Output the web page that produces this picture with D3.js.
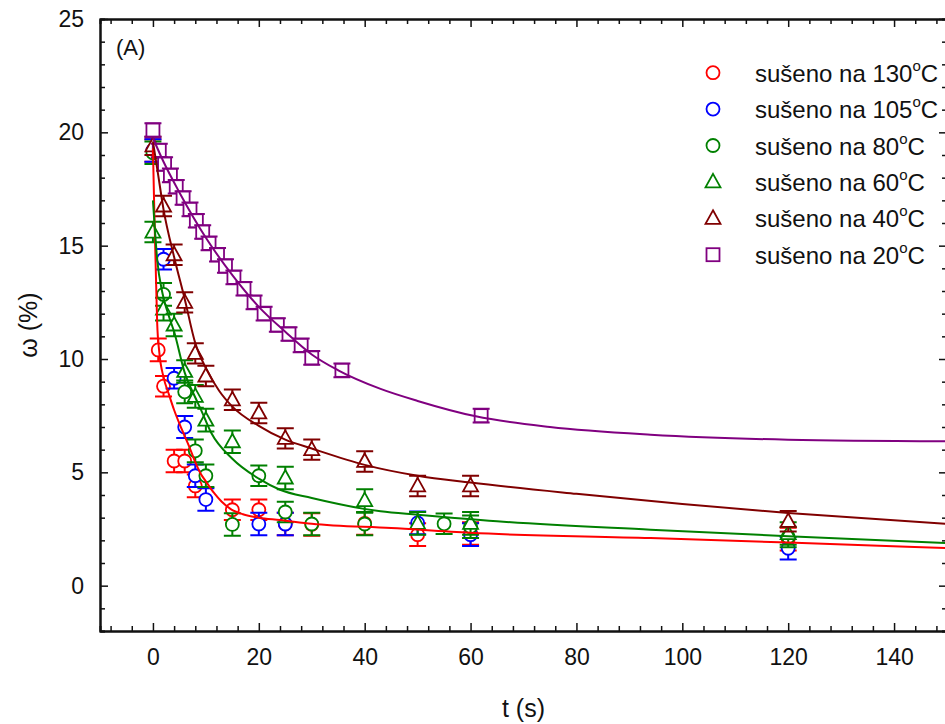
<!DOCTYPE html>
<html>
<head>
<meta charset="utf-8">
<script src="https://cdn.jsdelivr.net/npm/d3@7"></script>
<style>
  body { margin: 0; background: #fff; }
  text { font-family: "Liberation Sans", Arial, sans-serif; fill: #111; }
</style>
</head>
<body>
<svg id="chart" width="945" height="724"></svg>
<script>
var t130 = [0, 1, 2, 4, 6, 8, 15, 20, 25, 30, 40, 50, 60, 120];
var w130 = [19.2, 10.4, 8.8, 5.5, 5.5, 4.4, 3.35, 3.35, 2.72, 2.7, 2.75, 2.25, 2.3, 2.05];
var e130 = [0.5, 0.5, 0.45, 0.5, 0.5, 0.5, 0.45, 0.45, 0.5, 0.5, 0.5, 0.5, 0.5, 0.5];

var t105 = [0, 2, 4, 6, 8, 10, 20, 25, 50, 60, 120];
var w105 = [19.2, 14.4, 9.15, 7.0, 4.85, 3.8, 2.72, 2.72, 2.77, 2.25, 1.65];
var e105 = [0.5, 0.45, 0.45, 0.48, 0.5, 0.5, 0.5, 0.5, 0.5, 0.5, 0.5];

var t80 = [0, 2, 6, 8, 10, 15, 20, 25, 30, 40, 55, 60, 120];
var w80 = [19.1, 12.85, 8.55, 5.95, 4.85, 2.7, 4.85, 3.25, 2.72, 2.72, 2.73, 2.6, 2.15];
var e80 = [0.5, 0.5, 0.5, 0.5, 0.5, 0.5, 0.45, 0.45, 0.5, 0.5, 0.45, 0.5, 0.45];

var t60 = [0, 2, 4, 6, 8, 10, 15, 25, 40, 50, 60, 120];
var w60 = [15.6, 12.2, 11.5, 9.45, 8.35, 7.3, 6.35, 4.75, 3.75, 2.75, 2.75, 2.3];
var e60 = [0.45, 0.5, 0.5, 0.5, 0.5, 0.5, 0.5, 0.5, 0.5, 0.5, 0.5, 0.5];

var t40 = [0, 2, 4, 6, 8, 10, 15, 20, 25, 30, 40, 50, 60, 120];
var w40 = [19.4, 16.75, 14.6, 12.5, 10.25, 9.25, 8.2, 7.62, 6.5, 6.0, 5.48, 4.4, 4.4, 2.84];
var e40 = [0.4, 0.45, 0.45, 0.45, 0.45, 0.45, 0.45, 0.45, 0.45, 0.45, 0.45, 0.45, 0.45, 0.45];

var t20 = [0, 1.2, 2.2, 3.3, 4.4, 5.7, 7, 8.2, 9.4, 10.6, 12.2, 13.7, 15.3, 17.2, 19.1, 21, 23.5, 25.7, 28, 30, 35.7, 62];
var w20 = [20.1, 19.2, 18.6, 18.1, 17.6, 17.1, 16.6, 16.1, 15.6, 15.1, 14.6, 14.1, 13.6, 13.1, 12.5, 12.0, 11.5, 11.1, 10.6, 10.05, 9.5, 7.5];
var e20 = [0.3, 0.3, 0.3, 0.3, 0.3, 0.3, 0.3, 0.3, 0.3, 0.3, 0.3, 0.3, 0.3, 0.3, 0.3, 0.3, 0.3, 0.3, 0.3, 0.3, 0.3, 0.3];

// fitted curves, sampled from the figure
var fitT130 = [0, 0.25, 0.5, 0.8, 1.2, 2, 3, 4, 5, 6, 7, 8, 9, 10, 11.5, 13, 14.7, 17, 20, 24, 30, 45, 60, 94, 120, 150];
var fitW130 = [19.3, 16.6, 14.3, 11.6, 10.3, 9.2, 8.45, 7.75, 7.15, 6.6, 6.05, 5.45, 4.95, 4.6, 4.1, 3.7, 3.38, 3.15, 3.0, 2.9, 2.73, 2.54, 2.33, 2.1, 1.9, 1.66];

var fitT80 = [0, 0.4, 0.8, 1.8, 3, 4, 6, 8, 9, 11, 15, 20, 24, 30, 43, 50, 65, 94, 120, 150];
var fitW80 = [17, 15.6, 14.4, 12.9, 11.9, 11.2, 9.4, 8.3, 7.8, 6.75, 5.6, 4.72, 4.23, 3.87, 3.28, 3.13, 2.84, 2.47, 2.18, 1.88];

var fitT40 = [0, 1, 2, 4, 6, 8, 10, 12.5, 15, 20, 25, 30, 40, 50, 60, 80, 100, 120, 150];
var fitW40 = [19.6, 18.1, 16.6, 14.5, 12.65, 10.7, 9.6, 8.6, 7.9, 7.05, 6.44, 6.05, 5.33, 4.85, 4.55, 4.05, 3.6, 3.21, 2.73];

var fitT20 = [0, 2, 5, 10, 15, 20, 25, 30, 35, 43, 50, 61, 75, 94, 120, 150];
var fitW20 = [19.75, 18.7, 17.35, 15.35, 13.7, 12.3, 11.2, 10.2, 9.5, 8.68, 8.15, 7.47, 7.0, 6.66, 6.44, 6.37];

var xMajor = [0, 20, 40, 60, 80, 100, 120, 140];
var yMajor = [0, 5, 10, 15, 20, 25];
var legendLabels = ["130", "105", "80", "60", "40", "20"];

var series = [
  { t: t130, w: w130, e: e130, color: "#ff0000", shape: "circle" },
  { t: t105, w: w105, e: e105, color: "#0000ff", shape: "circle" },
  { t: t80, w: w80, e: e80, color: "#008000", shape: "circle" },
  { t: t60, w: w60, e: e60, color: "#008000", shape: "triangle" },
  { t: t40, w: w40, e: e40, color: "#800000", shape: "triangle" },
  { t: t20, w: w20, e: e20, color: "#800080", shape: "square" }
];
var fits = [
  { t: fitT130, w: fitW130, color: "#ff0000" },
  { t: fitT80, w: fitW80, color: "#008000" },
  { t: fitT40, w: fitW40, color: "#800000" },
  { t: fitT20, w: fitW20, color: "#800080" }
];

var svg = d3.select("#chart");
var pLeft = 100, pRight = 947, pTop = 19, pBottom = 631;

var x = d3.scaleLinear().domain([-10, 150]).range([pLeft, pRight]);
var y = d3.scaleLinear().domain([-2, 25]).range([pBottom, pTop]);

var xMinor = d3.range(-8, 150, 4).filter(function(d) { return d % 20 !== 0; });
var yMinor = d3.range(-2, 26, 1).filter(function(d) { return d % 5 !== 0; });

function styleAxis(g) {
  g.attr("font-size", 23).attr("font-family", "Liberation Sans, Arial, sans-serif");
  g.select(".domain").attr("stroke", "#111").attr("stroke-width", 2);
  g.selectAll(".tick line").attr("stroke", "#111").attr("stroke-width", 1.5);
  g.selectAll(".tick text").attr("fill", "#111");
}

// bottom
svg.append("g").attr("transform", "translate(0," + pBottom + ")")
  .call(d3.axisBottom(x).tickValues(xMajor).tickSizeInner(-8).tickSizeOuter(0).tickPadding(18))
  .call(styleAxis);
svg.append("g").attr("transform", "translate(0," + pBottom + ")")
  .call(d3.axisBottom(x).tickValues(xMinor).tickSize(-5).tickFormat(""))
  .call(styleAxis);
// top
svg.append("g").attr("transform", "translate(0," + pTop + ")")
  .call(d3.axisTop(x).tickValues(xMajor).tickSizeInner(-8).tickSizeOuter(0).tickFormat(""))
  .call(styleAxis);
svg.append("g").attr("transform", "translate(0," + pTop + ")")
  .call(d3.axisTop(x).tickValues(xMinor).tickSize(-5).tickFormat(""))
  .call(styleAxis);
// left
svg.append("g").attr("transform", "translate(" + pLeft + ",0)")
  .call(d3.axisLeft(y).tickValues(yMajor).tickSizeInner(-8).tickSizeOuter(0).tickPadding(16))
  .call(styleAxis);
svg.append("g").attr("transform", "translate(" + pLeft + ",0)")
  .call(d3.axisLeft(y).tickValues(yMinor).tickSize(-5).tickFormat(""))
  .call(styleAxis);
// right
svg.append("g").attr("transform", "translate(" + pRight + ",0)")
  .call(d3.axisRight(y).tickValues(yMajor).tickSizeInner(-8).tickSizeOuter(0).tickFormat(""))
  .call(styleAxis);
svg.append("g").attr("transform", "translate(" + pRight + ",0)")
  .call(d3.axisRight(y).tickValues(yMinor).tickSize(-5).tickFormat(""))
  .call(styleAxis);

// axis titles
svg.append("text").attr("x", (pLeft + pRight) / 2).attr("y", 717)
  .attr("text-anchor", "middle").attr("font-size", 25).text("t (s)");
svg.append("text").attr("transform", "translate(37," + ((pTop + pBottom) / 2) + ") rotate(-90)")
  .attr("text-anchor", "middle").attr("font-size", 25).text("ω (%)");
svg.append("text").attr("x", 116).attr("y", 55).attr("font-size", 22).text("(A)");

svg.append("clipPath").attr("id", "plot-clip").append("rect")
  .attr("x", pLeft).attr("y", pTop).attr("width", pRight - pLeft).attr("height", pBottom - pTop);
var plot = svg.append("g").attr("clip-path", "url(#plot-clip)");

function marker(g, shape, color) {
  if (shape === "circle") {
    g.append("circle").attr("r", 6.5);
  } else if (shape === "triangle") {
    g.append("path").attr("d", "M0,-8L7.5,5.5L-7.5,5.5Z");
  } else {
    g.append("rect").attr("x", -6.5).attr("y", -6.5).attr("width", 13).attr("height", 13);
  }
  g.selectAll("circle,path,rect").attr("fill", "#fff").attr("stroke", color).attr("stroke-width", 1.8);
}

series.forEach(function(s) {
  s.t.forEach(function(t, i) {
    var px = x(t), hi = y(s.w[i] + s.e[i]), lo = y(s.w[i] - s.e[i]);
    var g = plot.append("g");
    g.append("path")
      .attr("d", "M" + px + "," + hi + "V" + lo + "M" + (px - 8.5) + "," + hi + "H" + (px + 8.5) +
        "M" + (px - 8.5) + "," + lo + "H" + (px + 8.5))
      .attr("stroke", s.color).attr("stroke-width", 2).attr("fill", "none");
    var m = g.append("g").attr("transform", "translate(" + px + "," + y(s.w[i]) + ")");
    marker(m, s.shape, s.color);
  });
});

var line = d3.line().curve(d3.curveMonotoneX);
fits.forEach(function(f) {
  plot.append("path")
    .attr("d", line(f.t.map(function(t, i) { return [x(t), y(f.w[i])]; })))
    .attr("fill", "none").attr("stroke", f.color).attr("stroke-width", 2);
});

// legend
var legend = svg.append("g");
series.forEach(function(s, i) {
  var cy = 72.7 + i * 36.4;
  var m = legend.append("g").attr("transform", "translate(713," + cy + ")");
  marker(m, s.shape, s.color);
  var txt = legend.append("text").attr("x", 755).attr("y", cy + 9).attr("font-size", 24);
  txt.append("tspan").text("sušeno na " + legendLabels[i]);
  txt.append("tspan").attr("dy", -11).attr("font-size", 15).text("o");
  txt.append("tspan").attr("dy", 11).text("C");
});
</script>
</body>
</html>
